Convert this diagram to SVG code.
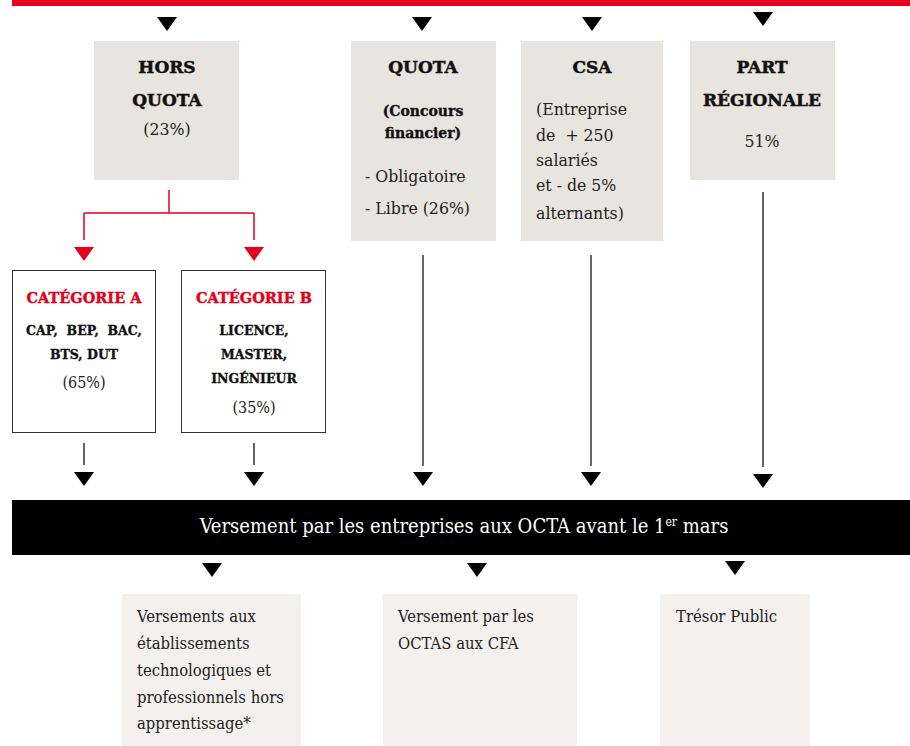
<svg xmlns="http://www.w3.org/2000/svg" width="910" height="746" viewBox="0 0 910 746">
<style>
.h{font-family:"DejaVu Serif","Liberation Serif",serif;font-weight:bold;font-size:17px;fill:#111;stroke:#111;stroke-width:0.5;text-anchor:middle}
.hs{font-family:"DejaVu Serif","Liberation Serif",serif;font-weight:bold;font-size:14px;fill:#111;stroke:#111;stroke-width:0.35;text-anchor:middle}
.hr{font-family:"DejaVu Serif","Liberation Serif",serif;font-weight:bold;font-size:14.5px;fill:#e2001a;stroke:#e2001a;stroke-width:0.4;text-anchor:middle}
.hc{font-family:"DejaVu Serif","Liberation Serif",serif;font-weight:bold;font-size:12.5px;fill:#111;stroke:#111;stroke-width:0.35;text-anchor:middle}
.b{font-family:"DejaVu Serif","Liberation Serif",serif;font-stretch:condensed;font-size:17.5px;fill:#222}
.bm{font-size:16px}
.bs{font-size:16.5px}
.bc{text-anchor:middle}
.band{font-family:"DejaVu Serif","Liberation Serif",serif;font-stretch:condensed;font-size:20px;fill:#fff;text-anchor:middle}
.top{fill:#e8e4df}
.bot{fill:#f3f0ed}
.cat{fill:#fff;stroke:#333;stroke-width:1}
.ln{stroke:#111;stroke-width:1.3;fill:none}
.rl{stroke:#e2001a;stroke-width:1.5;fill:none}
</style>
<defs>
<path id="tri" d="M-10,0 H10 L0,14 Z"/>
</defs>
<rect x="12" y="0" width="898" height="6" fill="#e8001c"/>
<g id="hors-quota">
<rect class="top" x="94" y="41" width="145" height="139"/>
<text class="h" x="167" y="73">HORS</text>
<text class="h" x="167" y="106">QUOTA</text>
<text class="b bc" x="167" y="135">(23%)</text>
</g>
<g id="quota">
<rect class="top" x="351" y="41" width="145" height="200"/>
<text class="h" x="423" y="73">QUOTA</text>
<text class="hs" x="423" y="116">(Concours</text>
<text class="hs" x="423" y="138">financier)</text>
<text class="b" x="365" y="182">- Obligatoire</text>
<text class="b" x="365" y="214">- Libre (26%)</text>
</g>
<g id="csa">
<rect class="top" x="521" y="41" width="142" height="200"/>
<text class="h" x="592" y="73">CSA</text>
<text class="b" x="536" y="115">(Entreprise</text>
<text class="b" x="536" y="141" xml:space="preserve">de  + 250</text>
<text class="b" x="536" y="166">salariés</text>
<text class="b" x="536" y="191">et - de 5%</text>
<text class="b" x="536" y="219">alternants)</text>
</g>
<g id="part-regionale">
<rect class="top" x="690" y="41" width="145" height="139"/>
<text class="h" x="762" y="73">PART</text>
<text class="h" x="762" y="106">RÉGIONALE</text>
<text class="b bc" x="762" y="147">51%</text>
</g>
<g id="categorie-a">
<rect class="cat" x="12.5" y="270.5" width="143" height="162"/>
<text class="hr" x="84" y="303">CATÉGORIE A</text>
<text class="hc" x="84" y="335" xml:space="preserve">CAP,  BEP,  BAC,</text>
<text class="hc" x="84" y="359">BTS, DUT</text>
<text class="b bm bc" x="84" y="388">(65%)</text>
</g>
<g id="categorie-b">
<rect class="cat" x="181.5" y="270.5" width="144" height="162"/>
<text class="hr" x="254" y="303">CATÉGORIE B</text>
<text class="hc" x="254" y="335">LICENCE,</text>
<text class="hc" x="254" y="359">MASTER,</text>
<text class="hc" x="254" y="383">INGÉNIEUR</text>
<text class="b bm bc" x="254" y="413">(35%)</text>
</g>
<g id="versement-octa">
<rect x="12" y="500" width="898" height="55" fill="#000"/>
<text class="band" x="464" y="533">Versement par les entreprises aux OCTA avant le 1<tspan font-size="12" dy="-7">er</tspan><tspan dy="7"> mars</tspan></text>
</g>
<g id="etablissements">
<rect class="bot" x="122" y="594" width="179" height="152"/>
<text class="b bs" x="137" y="622">Versements aux</text>
<text class="b bs" x="137" y="649">établissements</text>
<text class="b bs" x="137" y="676">technologiques et</text>
<text class="b bs" x="137" y="703">professionnels hors</text>
<text class="b bs" x="137" y="729">apprentissage*</text>
</g>
<g id="octas-cfa">
<rect class="bot" x="383" y="594" width="194" height="152"/>
<text class="b bs" x="398" y="622">Versement par les</text>
<text class="b bs" x="398" y="649">OCTAS aux CFA</text>
</g>
<g id="tresor-public">
<rect class="bot" x="660" y="594" width="150" height="152"/>
<text class="b bs" x="676" y="622">Trésor Public</text>
</g>
<g id="connectors">
<path class="rl" d="M169,190 V213 M84,213 H254 M84,213 V240 M254,213 V240"/>
<path class="ln" d="M84,443 V465 M254,443 V465 M423,255 V466 M591,255 V466 M763,192 V467"/>
<use href="#tri" x="167" y="17"/>
<use href="#tri" x="422" y="17"/>
<use href="#tri" x="592" y="17"/>
<use href="#tri" x="763" y="12"/>
<use href="#tri" x="84" y="247" fill="#e2001a"/>
<use href="#tri" x="254" y="247" fill="#e2001a"/>
<use href="#tri" x="84" y="472"/>
<use href="#tri" x="254" y="472"/>
<use href="#tri" x="423" y="472"/>
<use href="#tri" x="591" y="472"/>
<use href="#tri" x="763" y="474"/>
<use href="#tri" x="212" y="563"/>
<use href="#tri" x="477" y="563"/>
<use href="#tri" x="735" y="561"/>
</g>
</svg>
